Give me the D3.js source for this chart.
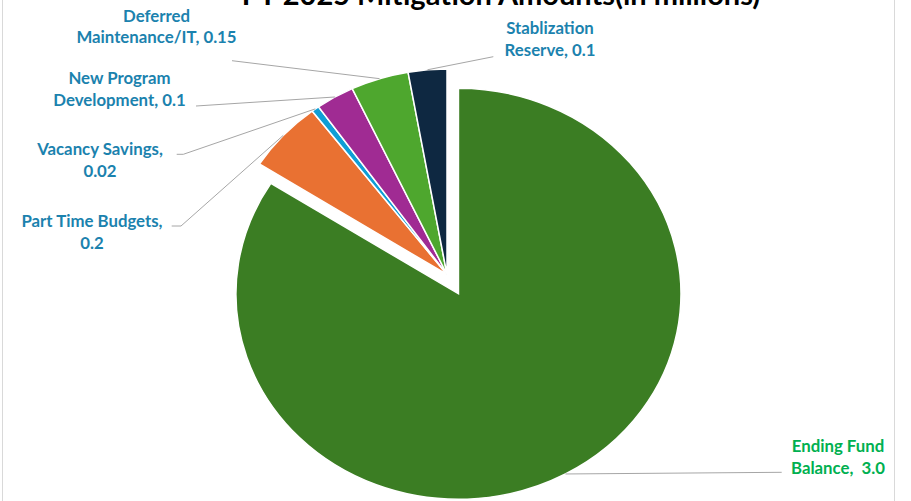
<!DOCTYPE html>
<html>
<head>
<meta charset="utf-8">
<script src="https://cdn.jsdelivr.net/npm/d3@7"></script>
<style>
  body{margin:0;background:#fff;}
  svg{display:block;font-family:Lato,"Open Sans",sans-serif;}
</style>
</head>
<body>
<script>
// data
const categories=["Ending Fund Balance","Part Time Budgets","Vacancy Savings","New Program Development","Deferred Maintenance/IT","Stablization Reserve"];
const values=[3.0,0.2,0.02,0.1,0.15,0.1];
const valueLabels=["3.0","0.2","0.02","0.1","0.15","0.1"];
const colors=["#3B7D23","#E97132","#0F9ED5","#A02B93","#4EA72E","#0E2841"];
const labelColors=["#00B050","#1B82AE","#1B82AE","#1B82AE","#1B82AE","#1B82AE"];
const explode=[22,0,0,0,0,0];

//constants
const w=911, h=501;
const cx=447, cy=274.5, r=205.5, sx=222.5/205.5;

// label layout: text lines, anchor x, baselines, leader end / elbow
const labelLayout=[
  {lines:["Ending Fund","Balance,  "+valueLabels[0]],x:838,y:[452,474],end:[781.7,472.3]},
  {lines:["Part Time Budgets,",valueLabels[1]],x:92,y:[226.5,249],end:[171.7,226],elbow:[181,226]},
  {lines:["Vacancy Savings,",valueLabels[2]],x:100,y:[155,177],end:[176.7,154.3],elbow:[183.3,154.3]},
  {lines:["New Program","Development, "+valueLabels[3]],x:119.5,y:[84,105.5],end:[196,106]},
  {lines:["Deferred","Maintenance/IT, "+valueLabels[4]],x:156.5,y:[21.7,43.3],end:[232,60.7]},
  {lines:["Stablization","Reserve, "+valueLabels[5]],x:550,y:[34.3,56],end:[493.3,56.7]}
];

const svg=d3.select("body").append("svg").attr("width",w).attr("height",h);

// chart border
svg.append("rect").attr("x",2.5).attr("y",-10).attr("width",892).attr("height",h+20)
  .attr("fill","none").attr("stroke","#D9D9D9").attr("stroke-width",1);

// title (top is cut off in the original too)
svg.append("text").attr("x",501).attr("y",5).attr("text-anchor","middle")
  .attr("font-size",29).attr("font-weight",700).attr("fill","#000")
  .text("FY 2025 Mitigation Amounts(in millions)");

const pie=d3.pie().sort(null).value(d=>d)(values);
const arc=d3.arc().innerRadius(0).outerRadius(r);
const edge=d3.arc().innerRadius(r).outerRadius(r);

// offset of each slice (explosion along its mid angle)
const offset=(d,i)=>{
  const a=(d.startAngle+d.endAngle)/2;
  return [Math.sin(a)*explode[i],-Math.cos(a)*explode[i]];
};
const toScreen=(p)=>[cx+p[0]*sx,cy+p[1]];

const g=svg.append("g").attr("transform","translate("+cx+","+cy+") scale("+sx+",1)");
g.selectAll("path").data(pie).enter().append("path")
  .attr("transform",(d,i)=>"translate("+offset(d,i)+")")
  .attr("d",arc)
  .attr("fill",(d,i)=>colors[i])
  .attr("stroke","#fff").attr("stroke-width",1.5)
  .attr("vector-effect","non-scaling-stroke");

// leader lines
svg.append("g").selectAll("path").data(pie).enter().append("path")
  .attr("fill","none").attr("stroke","#A6A6A6").attr("stroke-width",1)
  .attr("d",(d,i)=>{
    const o=offset(d,i), c=edge.centroid(d);
    const p=toScreen([c[0]+o[0],c[1]+o[1]]);
    const L=labelLayout[i];
    const pts=[p];
    if(L.elbow) pts.push(L.elbow);
    pts.push(L.end);
    return d3.line()(pts);
  });

// labels
const labels=svg.append("g").selectAll("text").data(labelLayout).enter().append("text")
  .attr("text-anchor","middle").attr("font-size",16.8).attr("font-weight",700)
  .attr("fill",(d,i)=>labelColors[i]);
labels.selectAll("tspan").data(d=>d.lines.map((t,j)=>({t:t,x:d.x,y:d.y[j]}))).enter()
  .append("tspan").attr("x",d=>d.x).attr("y",d=>d.y).style("white-space","pre").text(d=>d.t);
</script>
</body>
</html>
